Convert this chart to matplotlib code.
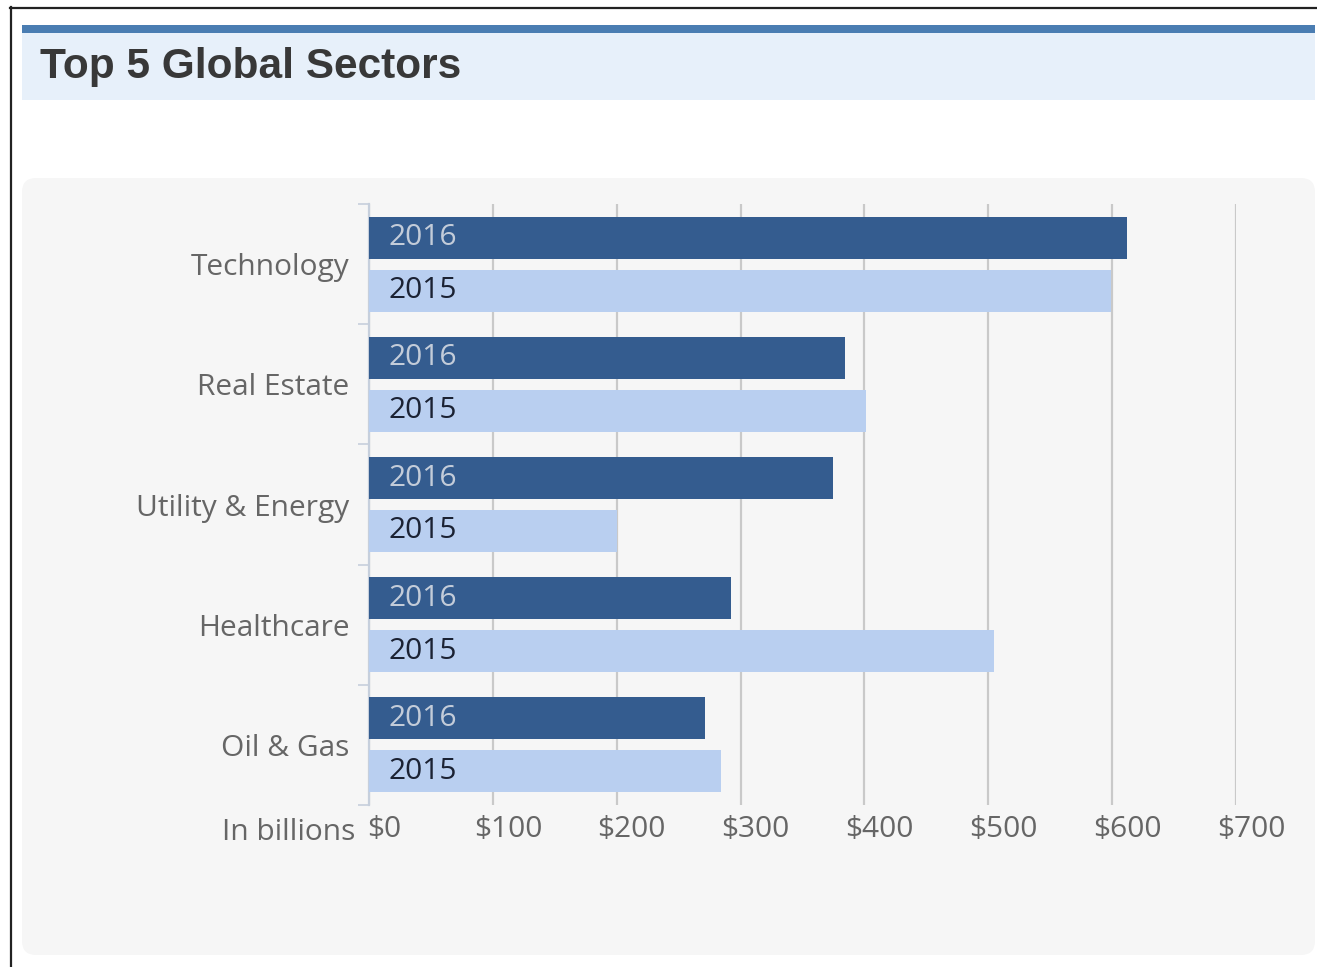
import matplotlib.pyplot as plt
from matplotlib.patches import FancyBboxPatch, Rectangle
from matplotlib.lines import Line2D
from matplotlib.transforms import ScaledTranslation

W, H = 1317, 967

sectors = ["Technology", "Real Estate", "Utility & Energy", "Healthcare", "Oil & Gas"]
values_2016 = [612, 384, 375, 292, 271]
values_2015 = [599, 401, 200, 505, 284]
x_ticks = [0, 100, 200, 300, 400, 500, 600, 700]
x_tick_labels = ["$0", "$100", "$200", "$300", "$400", "$500", "$600", "$700"]

DARK = "#345c8f"
LIGHT = "#b9cff0"
GRID = "#c9c9c9"
TEXT = "#666666"
FONT = "Open Sans"
SIZE = 21.5


def fx(x):
    return x / W


def fy(y):
    return 1 - y / H


fig = plt.figure(figsize=(W / 100, H / 100), dpi=100)
fig.patch.set_facecolor("white")

# outer frame lines
fig.add_artist(Line2D([fx(10), fx(1317)], [fy(7.5), fy(7.5)], color="#222222", lw=1.6))
fig.add_artist(Line2D([fx(10.5), fx(10.5)], [fy(7), fy(967)], color="#222222", lw=1.6))

# header band
fig.add_artist(Rectangle((fx(22), fy(100)), fx(1315) - fx(22), fy(33) - fy(100),
                         transform=fig.transFigure, facecolor="#e7f0fa", edgecolor="none",
                         zorder=-2))
fig.add_artist(Rectangle((fx(22), fy(33)), fx(1315) - fx(22), fy(25) - fy(33),
                         transform=fig.transFigure, facecolor="#4a7db2", edgecolor="none",
                         zorder=-2))
fig.text(fx(40), fy(67), "Top 5 Global Sectors", fontsize=30.5, fontweight="bold",
         color="#383838", family="Liberation Sans", va="center", ha="left")

# chart panel, kept behind the axes
fig.add_artist(FancyBboxPatch((fx(22), fy(955)), fx(1315) - fx(22), fy(178) - fy(955),
                              boxstyle="round,pad=0,rounding_size=%f" % (14 / W),
                              mutation_aspect=W / H, transform=fig.transFigure,
                              facecolor="#f6f6f6", edgecolor="none", zorder=-2))

ax = fig.add_axes([fx(369), fy(805), fx(1236) - fx(369), fy(204) - fy(805)])
ax.set_facecolor("none")

pos = list(range(len(sectors)))
offset, height = 0.22, 0.35
ax.barh([p - offset for p in pos], values_2016, height=height, color=DARK, zorder=3)
ax.barh([p + offset for p in pos], values_2015, height=height, color=LIGHT, zorder=3)

for p in pos:
    ax.annotate("2016", xy=(0, p - offset), xytext=(14, 0), textcoords="offset points",
                va="center", ha="left", fontsize=SIZE, color="#c3ccd9", family=FONT, zorder=4)
    ax.annotate("2015", xy=(0, p + offset), xytext=(14, 0), textcoords="offset points",
                va="center", ha="left", fontsize=SIZE, color="#1b2233", family=FONT, zorder=4)

ax.set_xlim(0, 700)
ax.set_ylim(len(sectors) - 0.5, -0.5)

ax.set_xticks(x_ticks)
ax.set_xticklabels(x_tick_labels, fontsize=SIZE, color=TEXT, family=FONT)
ax.tick_params(axis="x", length=0, pad=7)
shift = ScaledTranslation(15 / 100, 0, fig.dpi_scale_trans)
for lbl in ax.get_xticklabels():
    lbl.set_transform(lbl.get_transform() + shift)

ax.set_yticks(pos)
ax.set_yticklabels(sectors, fontsize=SIZE, color=TEXT, family=FONT)
ax.tick_params(axis="y", which="major", length=0, pad=14)
ax.set_yticks([p - 0.5 for p in range(len(sectors) + 1)], minor=True)
ax.tick_params(axis="y", which="minor", length=8, width=1.2, color="#c6cfdc")

ax.grid(axis="x", color=GRID, lw=1.6, zorder=0)
ax.grid(axis="y", visible=False)
for side in ["top", "right", "bottom"]:
    ax.spines[side].set_visible(False)
ax.spines["left"].set_color("#c6cfdc")
ax.spines["left"].set_linewidth(1.6)

ax.annotate("In billions", xy=(0, 0), xycoords="axes fraction", xytext=(-10, -20),
            textcoords="offset points", ha="right", va="center",
            fontsize=SIZE, color=TEXT, family=FONT)

fig.savefig("out.png", dpi=100, facecolor="white")
